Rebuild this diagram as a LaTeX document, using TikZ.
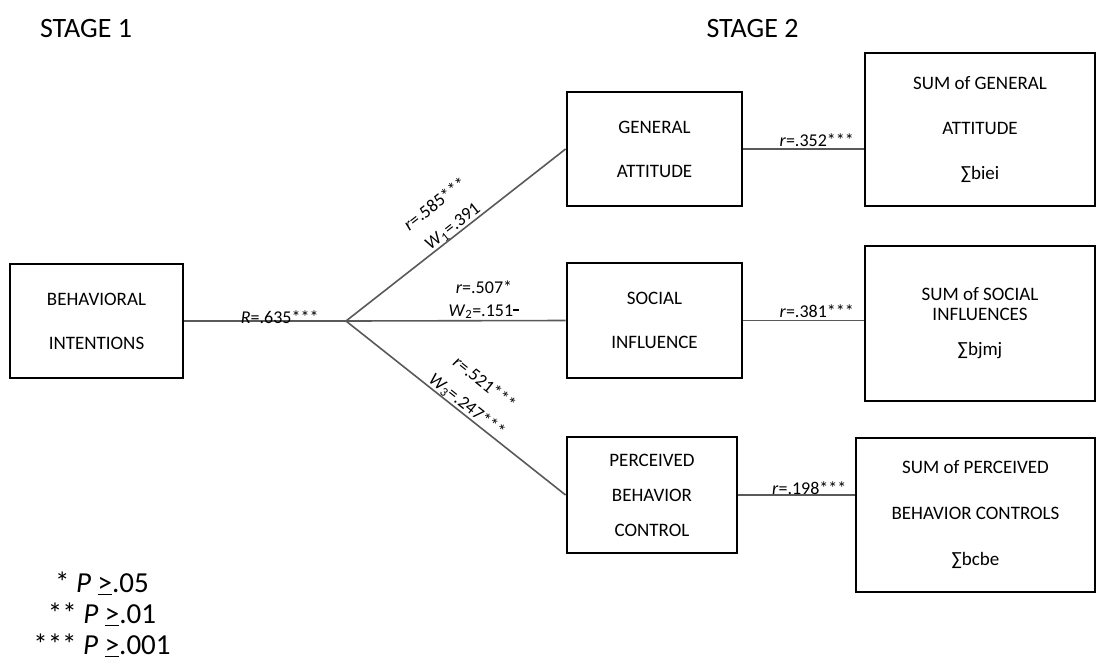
\documentclass[tikz,border=0pt]{standalone}
\usepackage{fontspec}
\setmainfont{Carlito}
\begin{document}
\begin{tikzpicture}[x=1pt,y=-1pt,
  box/.style={draw=black, line width=2.8pt, inner sep=0pt, align=center, font=\fontsize{19}{44}\selectfont},
  conn/.style={draw=black!65, line width=1.6pt},
  lab/.style={font=\fontsize{18}{23}\selectfont, inner sep=0pt, anchor=base},
  dlab/.style={font=\fontsize{18}{28}\selectfont, inner sep=0pt, align=center, anchor=south, sloped},
  head/.style={font=\fontsize{28}{32}\selectfont, inner sep=0pt}
]
\useasboundingbox (0,0) rectangle (1099,662);
\node[head] (st1) at (86,29) {STAGE 1};
\node[head] (st2) at (752.5,29) {STAGE 2};

\node[box, minimum width=173pt, minimum height=114pt] (bi) at (96.5,321) {BEHAVIORAL\\INTENTIONS};
\node[box, minimum width=175pt, minimum height=114pt] (ga) at (654.5,149) {GENERAL\\ATTITUDE};
\node[box, minimum width=175pt, minimum height=115pt] (si) at (654.5,320.5) {SOCIAL\\INFLUENCE};
\node[box, minimum width=170pt, minimum height=116pt, font=\fontsize{19}{35}\selectfont] (pbc) at (652,495) {PERCEIVED\\BEHAVIOR\\CONTROL};

\node[box, minimum width=230pt, minimum height=153pt, font=\fontsize{19}{45}\selectfont] (sga) at (980,129.5) {SUM of GENERAL\\ATTITUDE\\∑biei};
\node[box, minimum width=230pt, minimum height=155pt, font=\fontsize{19}{20}\selectfont] (ssi) at (980,323.5) {SUM of SOCIAL\\INFLUENCES\\[15pt]∑bjmj};
\node[box, minimum width=239pt, minimum height=154pt, font=\fontsize{19}{46}\selectfont] (spb) at (975.5,515) {SUM of PERCEIVED\\BEHAVIOR CONTROLS\\∑bcbe};

\coordinate (j) at (346,321);

\draw[conn] (bi.east) -- node[lab, pos=0.59, yshift=-2pt] (lR) {\textit{R}=.635***} (j);
\draw[conn] (j) -- node[dlab, pos=0.51] (l1) {\textit{r}=.585***\\\textit{W}\textsubscript{1}=.391} (ga.west);
\draw[conn] (j) -- (si.west);
\node[font=\fontsize{18}{23}\selectfont, inner sep=2pt, align=center, anchor=south] (l2) at (484,321) {\textit{r}=.507*\\\textit{W}\textsubscript{2}=.151\raisebox{0.55ex}{\rule{0.35em}{0.13em}}};
\draw[conn] (j) -- node[dlab, pos=0.525] (l3) {\textit{r}=.521***\\\textit{W}\textsubscript{3}=.247***} (pbc.west);

\draw[conn] (ga.east) -- node[lab, pos=0.61, yshift=3pt] (l4) {\textit{r}=.352***} (ga.east -| sga.west);
\draw[conn] (si.east) -- node[lab, pos=0.61, yshift=3pt] (l5) {\textit{r}=.381***} (si.east -| ssi.west);
\draw[conn] (pbc.east) -- node[lab, pos=0.61, yshift=1pt] (l6) {\textit{r}=.198***} (pbc.east -| spb.west);

\node[font=\fontsize{29}{31}\selectfont, align=center, inner sep=0pt] (leg) at (102,614) {* \textit{P} \underline{>}.05\\** \textit{P} \underline{>}.01\\*** \textit{P} \underline{>}.001};
\end{tikzpicture}
\end{document}
